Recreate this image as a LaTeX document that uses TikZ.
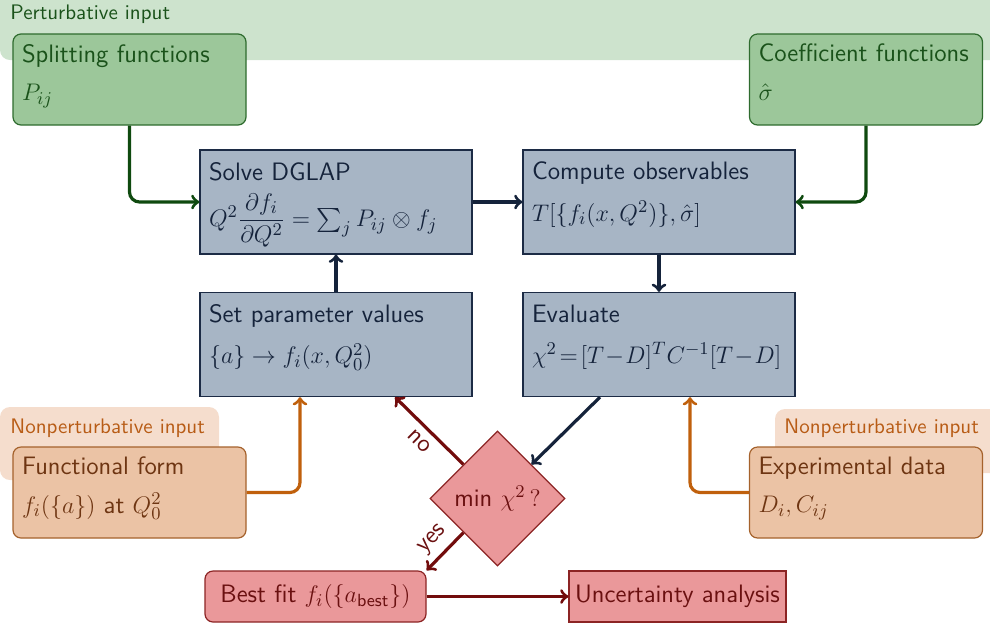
\documentclass[tikz,border=0pt]{standalone}
\usepackage{amsmath}
\usetikzlibrary{shapes.geometric}

\definecolor{pertband}{HTML}{CDE3CD}
\definecolor{pertfill}{HTML}{9CC79A}
\definecolor{pertdraw}{HTML}{2E6B2E}
\definecolor{perttext}{HTML}{1A521A}
\definecolor{pertarrow}{HTML}{0F4A0F}
\definecolor{stepfill}{HTML}{A7B5C5}
\definecolor{stepdraw}{HTML}{1C2B45}
\definecolor{steptext}{HTML}{15233B}
\definecolor{nonpband}{HTML}{F5DDCD}
\definecolor{nonpfill}{HTML}{EBC3A5}
\definecolor{nonpdraw}{HTML}{A5622C}
\definecolor{nonptext}{HTML}{6E3512}
\definecolor{nonplabel}{HTML}{B85C16}
\definecolor{nonparrow}{HTML}{C0600C}
\definecolor{fitfill}{HTML}{EA989A}
\definecolor{fitdraw}{HTML}{8C2424}
\definecolor{fittext}{HTML}{6A1010}
\definecolor{fitarrow}{HTML}{720C0C}

% two-line box contents, title on top
\newcommand{\inputtext}[2]{\parbox[c][35.5pt][t]{107.5pt}{#1\\[4pt]#2}}
\newcommand{\steptext}[2]{\parbox[c][40pt][t]{127pt}{#1\\[5.5pt]#2}}

\begin{document}
\begin{tikzpicture}[
	x=0.5pt, y=-0.5pt,
	font=\fontsize{12.6pt}{15.2pt}\selectfont\sffamily,
	inputbox/.style = {draw, line width=0.6pt, rounded corners=4pt, inner sep=0pt,
		minimum width=116.5pt, minimum height=45.5pt},
	pertbox/.style = {inputbox, draw=pertdraw, fill=pertfill, text=perttext},
	nonpbox/.style = {inputbox, draw=nonpdraw, fill=nonpfill, text=nonptext},
	stepbox/.style = {draw=stepdraw, fill=stepfill, text=steptext, line width=0.6pt,
		inner sep=0pt, minimum width=136pt, minimum height=52pt},
	fitbox/.style = {draw=fitdraw, fill=fitfill, text=fittext, line width=0.6pt,
		inner sep=0pt, minimum height=25.5pt},
	decision/.style = {diamond, aspect=1, draw=fitdraw, fill=fitfill, text=fittext,
		line width=0.6pt, inner sep=0pt, minimum width=67.5pt, minimum height=67.5pt},
	bandlabel/.style = {anchor=base west, inner sep=0pt, font=\fontsize{10.5pt}{12.6pt}\selectfont\sffamily},
	flow/.style = {->, line width=1.6pt, rounded corners=5pt, draw=#1},
	]
	\useasboundingbox (0,0) rectangle (990,628);

	% input bands
	\fill[pertband, rounded corners=5pt] (0,-20) rectangle (1010,60);
	\fill[nonpband, rounded corners=5pt] (0,407) rectangle (219,480);
	\fill[nonpband, rounded corners=5pt] (775,409) rectangle (1010,473);
	\node[bandlabel, text=perttext] (pertlabel) at (10,19) {Perturbative input};
	\node[bandlabel, text=nonplabel] (nonplabelL) at (10,433) {Nonperturbative input};
	\node[bandlabel, text=nonplabel] (nonplabelR) at (784,433) {Nonperturbative input};

	% inputs
	\node[pertbox] (split) at (129.5,79.5) {\inputtext{Splitting functions}{$P_{ij}$}};
	\node[pertbox] (coef) at (866,79.5) {\inputtext{Coefficient functions}{$\hat\sigma$}};
	\node[nonpbox] (func) at (129.5,492.5) {\inputtext{Functional form}{$f_i(\{a\})$ at $Q_0^2$}};
	\node[nonpbox] (expdata) at (866,492.5) {\inputtext{Experimental data}{$D_i, C_{ij}$}};

	% fit loop
	\node[stepbox] (solve) at (336,202) {\steptext{Solve DGLAP}{$Q^2\dfrac{\partial f_i}{\partial Q^2} = \sum_j P_{ij}\otimes f_j$}};
	\node[stepbox] (compute) at (659,202) {\steptext{Compute observables}{$T[\{f_i(x,Q^2)\},\hat\sigma]$}};
	\node[stepbox] (setpar) at (336,344.5) {\steptext{Set parameter values}{$\{a\}\to f_i(x,Q_0^2)$}};
	\node[stepbox] (eval) at (659,344.5) {\steptext{Evaluate}{$\chi^2\!=\![T\!-\!D]^T C^{-1}[T\!-\!D]$}};
	\node[decision] (minchi) at (497.5,498.5) {min $\chi^2\,?$};
	\node[fitbox, rounded corners=4pt, minimum width=110.5pt] (bestfit) at (315.5,596.5) {Best fit $f_i(\{a_{\textsf{best}}\})$};
	\node[fitbox, minimum width=108.5pt] (uncert) at (677.5,596.5) {Uncertainty analysis};

	\draw[flow=pertarrow] (split) |- (solve);
	\draw[flow=pertarrow] (coef) |- (compute);
	\draw[flow=steptext] (solve) -- (compute);
	\draw[flow=steptext] (compute) -- (eval);
	\draw[flow=steptext] (setpar) -- (solve);
	\draw[flow=nonparrow] (func) -| ([xshift=-18pt]setpar.south);
	\draw[flow=nonparrow] (expdata) -| ([xshift=15.5pt]eval.south);
	\draw[flow=steptext] ([xshift=-29.5pt]eval.south) -- (minchi.north east);
	\draw[flow=fitarrow] (minchi.north west) -- node[midway, sloped, below, text=fittext] {no} ([xshift=29.5pt]setpar.south);
	\draw[flow=fitarrow] (minchi.south west) -- node[midway, sloped, above, text=fittext] {yes} (bestfit.north east);
	\draw[flow=fitarrow] (bestfit) -- (uncert);
\end{tikzpicture}
\end{document}
